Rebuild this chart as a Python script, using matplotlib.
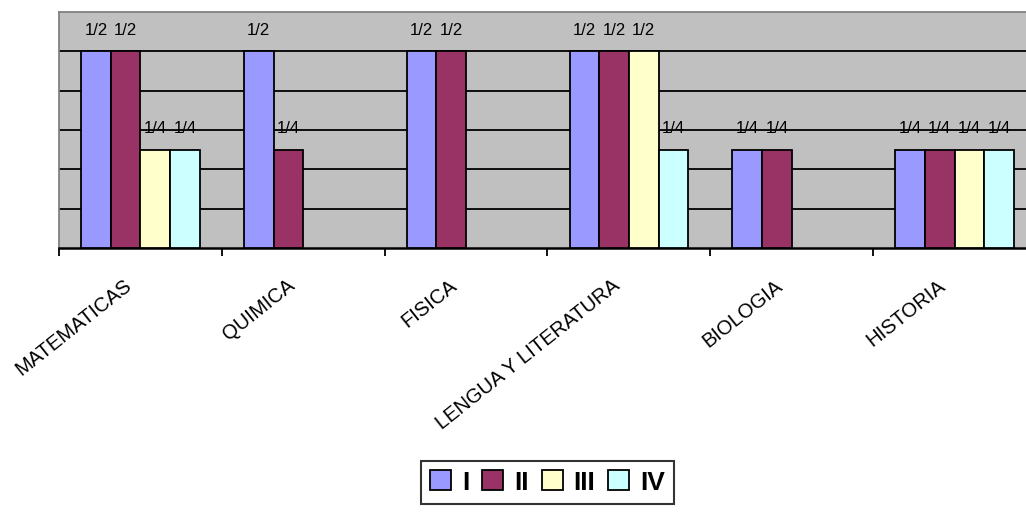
import numpy as np
import matplotlib
matplotlib.use("Agg")
import matplotlib.pyplot as plt
from matplotlib.transforms import blended_transform_factory, ScaledTranslation
from fractions import Fraction

plt.rcParams['font.family'] = ['Liberation Sans', 'DejaVu Sans']

# Subjects and the share of each term (I-IV); None means no bar
categories = ["MATEMATICAS", "QUIMICA", "FISICA", "LENGUA Y LITERATURA", "BIOLOGIA", "HISTORIA"]
series_names = ["I", "II", "III", "IV"]
values_I = [0.5, 0.5, 0.5, 0.5, 0.25, 0.25]
values_II = [0.5, 0.25, 0.5, 0.5, 0.25, 0.25]
values_III = [0.25, None, None, 0.5, None, 0.25]
values_IV = [0.25, None, None, 0.25, None, 0.25]
series_values = [values_I, values_II, values_III, values_IV]
colors = ["#9999FF", "#993366", "#FFFFCC", "#CCFFFF"]

fig = plt.figure(figsize=(10.26, 5.12), dpi=100)
W, H = 1026, 512
x0, x1 = 59, 1036
y_top, y_bot = 12, 248
ax = fig.add_axes([x0 / W, 1 - y_bot / H, (x1 - x0) / W, (y_bot - y_top) / H])
ax.set_facecolor("#C0C0C0")

n = len(categories)
x = np.arange(n)
bar_w = 0.182

for k, (name, vals, col) in enumerate(zip(series_names, series_values, colors)):
    offs = (k - 1.5) * bar_w
    for i, v in enumerate(vals):
        if v is None:
            continue
        ax.bar(x[i] + offs, v, width=bar_w, color=col, edgecolor="black",
               linewidth=1.3, zorder=3)
        ax.annotate(str(Fraction(v).limit_denominator()), (x[i] + offs, v),
                    xytext=(0, 15), textcoords="offset points",
                    ha="center", va="center", fontsize=12, zorder=4)

# legend proxies
handles = [plt.Rectangle((0, 0), 1, 1, facecolor=c, edgecolor="black", linewidth=1.3)
           for c in colors]

ax.set_xlim(-0.5, n - 0.5)
ax.set_ylim(0, 0.6)
ax.set_yticks(np.arange(0.1, 0.6, 0.1))
ax.yaxis.grid(True, color="black", linewidth=1.3, zorder=1)
ax.set_axisbelow(True)
ax.tick_params(axis="y", left=False, labelleft=False)

ax.set_xticks(np.arange(-0.5, n, 1.0))
ax.tick_params(axis="x", direction="out", length=6, width=1.3, color="black",
               labelbottom=False)

for side in ("top", "left", "right"):
    ax.spines[side].set_color("#808080")
    ax.spines[side].set_linewidth(1.3)
ax.spines["bottom"].set_color("black")
ax.spines["bottom"].set_linewidth(1.8)

# rotated category labels
trans = blended_transform_factory(ax.transData, ax.transAxes) + \
    ScaledTranslation(-17 / 100, -28 / 100, fig.dpi_scale_trans)
for i, lab in enumerate(categories):
    ax.text(x[i], 0, lab, transform=trans, rotation=38.5, rotation_mode="anchor",
            ha="right", va="top", fontsize=14.5, clip_on=False)

leg = ax.legend(handles, series_names, loc="upper center",
                bbox_to_anchor=(0.5, -(461 - y_bot) / (y_bot - y_top)),
                ncol=4, frameon=True, fancybox=False, shadow=False,
                borderaxespad=0, prop={"weight": "bold", "size": 19},
                handlelength=0.8, handleheight=0.8, handletextpad=0.4,
                columnspacing=0.5, borderpad=0.35)
leg.get_frame().set_edgecolor("black")
leg.get_frame().set_linewidth(1.5)

fig.savefig("out.png", dpi=100)
